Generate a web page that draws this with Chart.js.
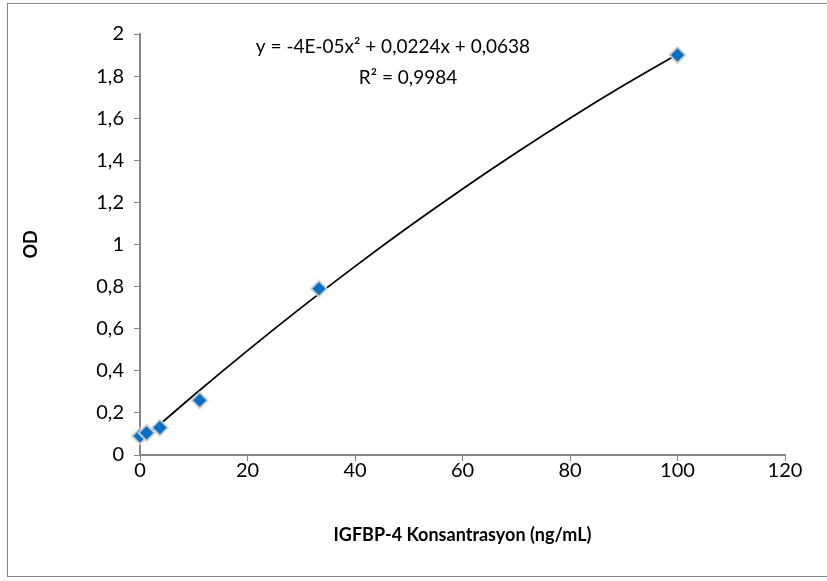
<!DOCTYPE html>
<html>
<head>
<meta charset="utf-8">
<script src="https://cdn.jsdelivr.net/npm/chart.js@4/dist/chart.umd.min.js"></script>
<style>
  body { margin: 0; background: #fff; }
  #wrap { width: 827px; height: 581px; }
</style>
</head>
<body>
<div id="wrap"><canvas id="std-curve" width="827" height="581"></canvas></div>
<script>
// standart noktalar
const concentrations = [0, 1.23, 3.7, 11.1, 33.3, 100]
const odValues = [0.09, 0.105, 0.13, 0.26, 0.79, 1.9]

// trend cizgisi
const trendX = [0, 10, 20, 30, 40, 50, 60, 70, 80, 90, 100]
const trendY = [0.064, 0.284, 0.496, 0.70, 0.896, 1.084, 1.264, 1.436, 1.6, 1.756, 1.904]

const xTicks = [0, 20, 40, 60, 80, 100, 120]
const yTicks = [0, 0.2, 0.4, 0.6, 0.8, 1, 1.2, 1.4, 1.6, 1.8, 2]

const equationText = ['y = -4E-05x² + 0,0224x + 0,0638', 'R² = 0,9984']

const fontFamily = 'Lato, "Open Sans", sans-serif'
const axisGray = '#868686'

const frame = {
  id: 'frame',
  beforeDraw(chart) {
    const c = chart.ctx
    c.save()
    c.fillStyle = '#fff'
    c.fillRect(0, 0, chart.width, chart.height)
    c.strokeStyle = axisGray
    c.lineWidth = 1
    c.strokeRect(7.5, 3.5, 840, 573)
    c.restore()
  },
  afterDraw(chart) {
    const c = chart.ctx
    c.save()
    c.fillStyle = '#000'
    c.font = '19px ' + fontFamily
    c.textAlign = 'center'
    c.textBaseline = 'middle'
    c.fillText(equationText[0], 393, 47)
    c.fillText(equationText[1], 408, 78)
    c.restore()
  }
}

const fmt = function (v) {
  return String(Math.round(v * 10) / 10).replace('.', ',')
}

const ctx = document.getElementById('std-curve')
const curveChart = new Chart(ctx, {
  type: 'scatter',
  data: {
    datasets: [{
      label: 'Trend',
      data: trendX.map((x, i) => ({ x: x, y: trendY[i] })),
      showLine: true,
      borderColor: '#000',
      borderWidth: 1.75,
      pointRadius: 0,
      cubicInterpolationMode: 'monotone',
      clip: false,
      order: 2
    }, {
      label: 'OD',
      data: concentrations.map((x, i) => ({ x: x, y: odValues[i] })),
      pointStyle: 'rectRot',
      pointRadius: 8,
      backgroundColor: '#0b6fc4',
      borderColor: 'rgba(210, 210, 210, 0.9)',
      borderWidth: 2,
      clip: false,
      order: 1
    }]
  },
  options: {
    responsive: false,
    animation: false,
    layout: { padding: { top: 34, right: 42, left: 0, bottom: 0 } },
    plugins: { legend: { display: false }, tooltip: { enabled: false } },
    scales: {
      x: {
        type: 'linear',
        min: 0,
        max: 120,
        afterBuildTicks: function (axis) { axis.ticks = xTicks.map(v => ({ value: v })) },
        afterFit: function (axis) { axis.height = 126 },
        grid: { drawOnChartArea: false, drawTicks: true, tickLength: 6, color: axisGray },
        border: { display: true, color: axisGray, width: 2 },
        ticks: { color: '#000', font: { family: fontFamily, size: 20 }, padding: -2, callback: fmt },
        title: {
          display: true,
          text: 'IGFBP-4 Konsantrasyon (ng/mL)',
          color: '#000',
          font: { family: fontFamily, size: 18, weight: 'bold' },
          padding: { top: 0, bottom: 35 }
        }
      },
      y: {
        type: 'linear',
        min: 0,
        max: 2,
        afterBuildTicks: function (axis) { axis.ticks = yTicks.map(v => ({ value: v })) },
        afterFit: function (axis) { axis.width = 140 },
        grid: { drawOnChartArea: false, drawTicks: true, tickLength: 6, color: axisGray },
        border: { display: true, color: axisGray, width: 2 },
        ticks: { color: '#000', font: { family: fontFamily, size: 20 }, padding: 10, callback: fmt },
        title: {
          display: true,
          text: 'OD',
          color: '#000',
          font: { family: fontFamily, size: 18, weight: 'bold' },
          padding: { top: 20, bottom: 0 }
        }
      }
    }
  },
  plugins: [frame]
})
</script>
</body>
</html>
